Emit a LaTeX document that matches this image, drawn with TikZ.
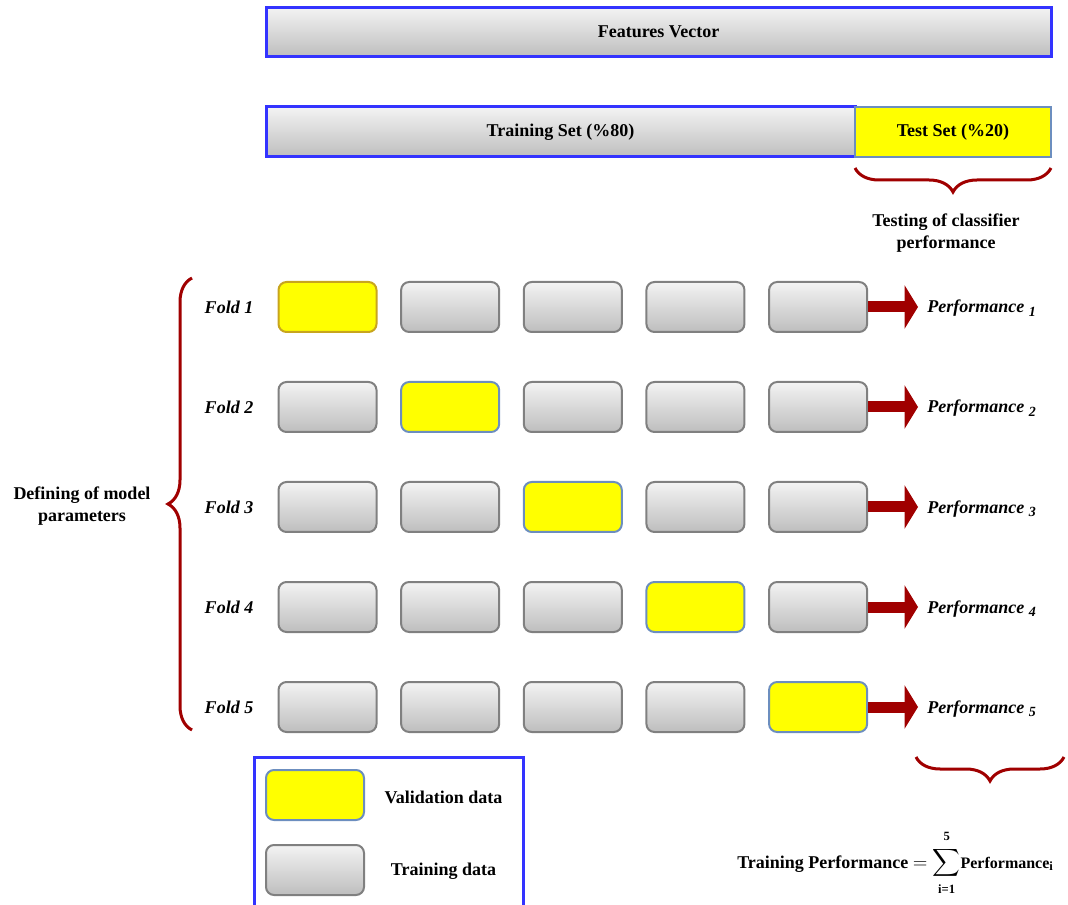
\documentclass[tikz,border=0pt]{standalone}
\usepackage{amsmath}
\usepackage{fontspec}
\setmainfont{Liberation Serif}
\usetikzlibrary{arrows.meta,decorations.pathreplacing,calc}

\definecolor{frameblue}{RGB}{51,51,255}
\definecolor{darkred}{RGB}{160,0,0}
\definecolor{cellgray}{RGB}{128,128,128}
\definecolor{steel}{RGB}{108,142,191}
\definecolor{golden}{RGB}{200,165,30}
\definecolor{shadetop}{RGB}{243,243,243}
\definecolor{shadebot}{RGB}{190,190,190}
\definecolor{pureyellow}{RGB}{255,255,0}

\begin{document}
\begin{tikzpicture}[x=0.75pt,y=-0.75pt,
  font=\fontsize{13.5}{16.5}\selectfont\bfseries,
  bar/.style={draw=frameblue, line width=2.25pt, top color=shadetop,
    bottom color=shadebot, inner sep=0pt, minimum height=36.75pt},
  testbar/.style={draw=steel, line width=1.5pt, fill=pureyellow, inner sep=0pt,
    minimum width=147pt, minimum height=37.5pt},
  cell/.style={draw=cellgray, line width=1.5pt, rounded corners=6pt,
    top color=shadetop, bottom color=shadebot, inner sep=0pt,
    minimum width=73.5pt, minimum height=37.5pt},
  valcell/.style={draw=steel, line width=1.5pt, rounded corners=6pt,
    fill=pureyellow, inner sep=0pt, minimum width=73.5pt, minimum height=37.5pt},
  pick/.code 2 args={\ifnum#1=#2\relax
      \pgfkeysalso{valcell}\ifnum#1=1 \pgfkeysalso{draw=golden}\fi
    \else\pgfkeysalso{cell}\fi},
  foldlbl/.style={font=\fontsize{13.5}{16.5}\selectfont\bfseries\itshape, inner sep=0pt},
  perflbl/.style={font=\fontsize{13.5}{16.5}\selectfont\bfseries\itshape,
    anchor=base west, inner sep=0pt},
  perfarrow/.style={draw=darkred, line width=8.25pt,
    -{Triangle[length=10pt, width=32pt]}, shorten >=6.75pt},
  curly/.style={draw=darkred, line width=2.25pt, decorate,
    decoration={brace, amplitude=18pt}},
  note/.style={align=center, inner sep=0pt}
]
\useasboundingbox (0,0) rectangle (1068,905);

% data split bars
\node[bar, minimum width=588.75pt] (features) at (658.5,32) {Features Vector};
\node[bar, minimum width=441.75pt, minimum height=37.5pt] (trainset) at (560.5,132) {Training Set (\%80)};
\node[testbar] (testset) at (953,132) {Test Set (\%20)};

% brace and caption for the held-out test set
\draw[curly] (1051,168) -- (855,168);
\node[note] (testnote) at (946,233) {Testing of classifier\\performance};

% five folds: the diagonal cell is the validation part
\foreach \r in {1,...,5}{
  \node[foldlbl] (f\r) at (229,{207+100*\r}) {Fold \r};
  \foreach \c in {1,...,5}{
    \node[pick={\r}{\c}] (b\r\c) at ({327.5+122.65*(\c-1)},{207+100*\r}) {};
  }
  \node[perflbl] (p\r) at (927,{213+100*\r})
    {Performance \raisebox{-0.45ex}{\fontsize{10.5}{10.5}\selectfont\r}};
  \draw[perfarrow] (b\r5.east) -- (b\r5.east -| p\r.west);
}

% brace over all folds
\draw[curly] (192,730) -- (192,278);
\node[note] (modelnote) at (82,506) {Defining of model\\parameters};

% brace under the performance column
\draw[curly] (1064,757) -- (916,757);

% legend
\draw[frameblue, line width=2.25pt] (254,906) -- (254,757) -- (523,757) -- (523,906);
\node[valcell] (legval) at (315,795) {};
\node[cell] (legtrain) at (315,870) {};
\node[inner sep=0pt] (legvaltext) at (443.5,797) {Validation data};
\node[inner sep=0pt] (legtraintext) at (443.5,871) {Training data};

% overall training score
\node[anchor=base west, inner sep=0pt] (formula) at (737,868)
  {Training Performance $=\displaystyle\sum_{\rule{0pt}{9pt}\text{i=1}}^{\text{5}\rule[-4pt]{0pt}{0pt}}\!\text{\fontsize{12}{12}\selectfont Performance}_{\text{i}}$};
\end{tikzpicture}
\end{document}
